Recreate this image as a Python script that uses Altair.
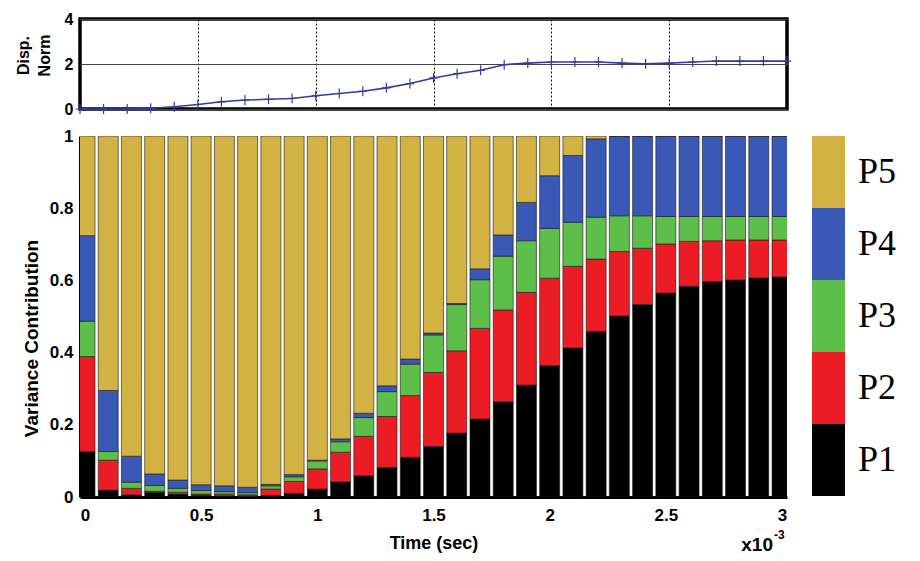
import altair as alt
import pandas as pd

# ---- data ----
times = [round(i * 0.1, 1) for i in range(31)]  # x 10^-3 s
series = ["P1", "P2", "P3", "P4", "P5"]
colors = ["#000000", "#EC1C24", "#5DBE4A", "#3A58B5", "#D3B244"]

p1 = [0.126, 0.019, 0.006, 0.013, 0.008, 0.005, 0.003, 0.002, 0.004, 0.010, 0.022,
      0.042, 0.059, 0.082, 0.110, 0.140, 0.177, 0.216, 0.264, 0.310, 0.364,
      0.413, 0.459, 0.502, 0.533, 0.565, 0.584, 0.597, 0.601, 0.607, 0.610]
p2 = [0.263, 0.083, 0.018, 0.003, 0.005, 0.003, 0.005, 0.004, 0.018, 0.033, 0.056,
      0.082, 0.109, 0.141, 0.171, 0.205, 0.228, 0.251, 0.254, 0.257, 0.242,
      0.226, 0.200, 0.178, 0.156, 0.136, 0.124, 0.113, 0.111, 0.105, 0.102]
p3 = [0.098, 0.024, 0.017, 0.016, 0.011, 0.010, 0.007, 0.006, 0.009, 0.013, 0.022,
      0.029, 0.052, 0.069, 0.087, 0.104, 0.128, 0.135, 0.149, 0.143, 0.138,
      0.122, 0.116, 0.099, 0.090, 0.076, 0.069, 0.067, 0.065, 0.065, 0.065]
p4 = [0.237, 0.169, 0.072, 0.032, 0.023, 0.016, 0.016, 0.015, 0.004, 0.006, 0.002,
      0.008, 0.012, 0.016, 0.014, 0.005, 0.003, 0.030, 0.059, 0.106, 0.146,
      0.185, 0.217, 0.221, 0.221, 0.223, 0.223, 0.223, 0.223, 0.223, 0.223]
p5 = [0.276, 0.705, 0.887, 0.936, 0.953, 0.966, 0.969, 0.973, 0.965, 0.938, 0.898,
      0.839, 0.768, 0.692, 0.618, 0.546, 0.464, 0.368, 0.274, 0.184, 0.110,
      0.054, 0.008, 0.000, 0.000, 0.000, 0.000, 0.000, 0.000, 0.000, 0.000]

disp_norm = [0.0, 0.0, 0.0, 0.03, 0.10, 0.20, 0.32, 0.40, 0.43, 0.47, 0.59,
             0.69, 0.79, 0.94, 1.13, 1.38, 1.57, 1.72, 1.97, 2.04, 2.09,
             2.09, 2.09, 2.04, 2.01, 2.04, 2.09, 2.13, 2.13, 2.13, 2.13]

x_ticks = [0, 0.5, 1, 1.5, 2, 2.5, 3]

# ---- tables ----
rows = []
for k, vals in enumerate([p1, p2, p3, p4, p5]):
    for t, v in zip(times, vals):
        rows.append({"t": t, "series": series[k], "order": k, "value": v})
bars_df = pd.DataFrame(rows)
disp_df = pd.DataFrame({"t": times, "disp": disp_norm})
legend_df = pd.DataFrame({"series": series, "order": list(range(5))})

FONT = "Liberation Sans"
W = 707
color_scale = alt.Scale(domain=series, range=colors)

# ---- top panel ----
xtop = alt.X("t:Q", scale=alt.Scale(domain=[0, 3], nice=False),
             axis=alt.Axis(values=x_ticks, labels=False, ticks=False, domain=False,
                           grid=True, gridColor="black", gridDash=[2, 2],
                           gridOpacity=1, gridWidth=1),
             title=None)
ytop = alt.Y("disp:Q", scale=alt.Scale(domain=[0, 4], nice=False),
             axis=alt.Axis(values=[0, 2, 4], grid=True, gridColor="#444",
                           gridOpacity=1, gridWidth=1, ticks=False, domain=False,
                           labelFont=FONT, labelFontWeight="bold", labelFontSize=16,
                           labelColor="black", labelPadding=7,
                           titleFont=FONT, titleFontWeight="bold", titleFontSize=16,
                           titleColor="black", titlePadding=12, titleLineHeight=21,
                           titleY=36),
             title=["Disp.", "Norm"])
line = alt.Chart(disp_df).mark_line(color="#3A3A9E", strokeWidth=1.6, clip=False).encode(
    x=xtop, y=ytop)
pts = alt.Chart(disp_df).mark_point(
    shape="M-1,0L1,0M0,-1.2L0,1.2", filled=False, color="#3A3A9E", size=70,
    strokeWidth=1.2, opacity=1).encode(x="t:Q", y="disp:Q")
top = alt.layer(line, pts).properties(
    width=W, height=90,
    view=alt.ViewBackground(stroke="black", strokeWidth=3.5))

# ---- bottom panel ----
xb = alt.X("t:Q", scale=alt.Scale(domain=[0, 3], nice=False),
           axis=alt.Axis(values=x_ticks, format="~g", grid=False, ticks=False,
                         domainColor="black", domainWidth=3,
                         labelFont=FONT, labelFontWeight="bold", labelFontSize=17,
                         labelColor="black", labelPadding=10,
                         titleFont=FONT, titleFontWeight="bold", titleFontSize=18,
                         titleColor="black", titlePadding=11),
           title="Time (sec)")
yb = alt.Y("sum(value):Q", stack="zero",
           scale=alt.Scale(domain=[0, 1], nice=False),
           axis=alt.Axis(values=[0, 0.2, 0.4, 0.6, 0.8, 1], format="~g", grid=False,
                         ticks=False, domainColor="black", domainWidth=3,
                         labelFont=FONT, labelFontWeight="bold", labelFontSize=17,
                         labelColor="black", labelPadding=7,
                         titleFont=FONT, titleFontWeight="bold", titleFontSize=19,
                         titleColor="black", titlePadding=8, titleY=202),
           title="Variance Contribution")
bars = alt.Chart(bars_df).mark_bar(size=20, clip=True, stroke="#1a1a1a",
                                   strokeWidth=0.6).encode(
    x=xb, y=yb,
    color=alt.Color("series:N", scale=color_scale, legend=None),
    order=alt.Order("order:Q", sort="ascending"))
mult = alt.Chart(pd.DataFrame({"s": ["x10"]})).mark_text(
    font=FONT, fontWeight="bold", fontSize=19, align="right", baseline="middle",
    color="black").encode(x=alt.value(W - 14), y=alt.value(409), text="s:N")
sup = alt.Chart(pd.DataFrame({"s": ["-3"]})).mark_text(
    font=FONT, fontWeight="bold", fontSize=12, align="left", baseline="middle",
    color="black").encode(x=alt.value(W - 13), y=alt.value(399), text="s:N")
bottom = alt.layer(bars, mult, sup).properties(
    width=W, height=361, view=alt.ViewBackground(stroke="transparent"))

# ---- legend (colour bar) ----
ly = alt.Y("series:N", sort=series[::-1], axis=None,
           scale=alt.Scale(paddingInner=0, paddingOuter=0))
lrect = alt.Chart(legend_df).mark_rect().encode(
    y=ly, x=alt.value(0), x2=alt.value(33),
    color=alt.Color("series:N", scale=color_scale, legend=None))
ltext = alt.Chart(legend_df).mark_text(
    font="Liberation Serif", fontSize=36, align="left", baseline="middle",
    color="black", dx=13).encode(y=ly, x=alt.value(33), text="series:N")
legend = alt.layer(lrect, ltext).properties(
    width=33, height=360, view=alt.ViewBackground(stroke="transparent"))

row = alt.hconcat(bottom, legend, spacing=25, bounds="flush")
chart = alt.vconcat(top, row, spacing=27, bounds="flush").properties(
    padding={"left": 5, "top": 1, "right": 0, "bottom": 0},
    background="white")

chart.save("out.html", embed_options={"renderer": "svg", "actions": False})
